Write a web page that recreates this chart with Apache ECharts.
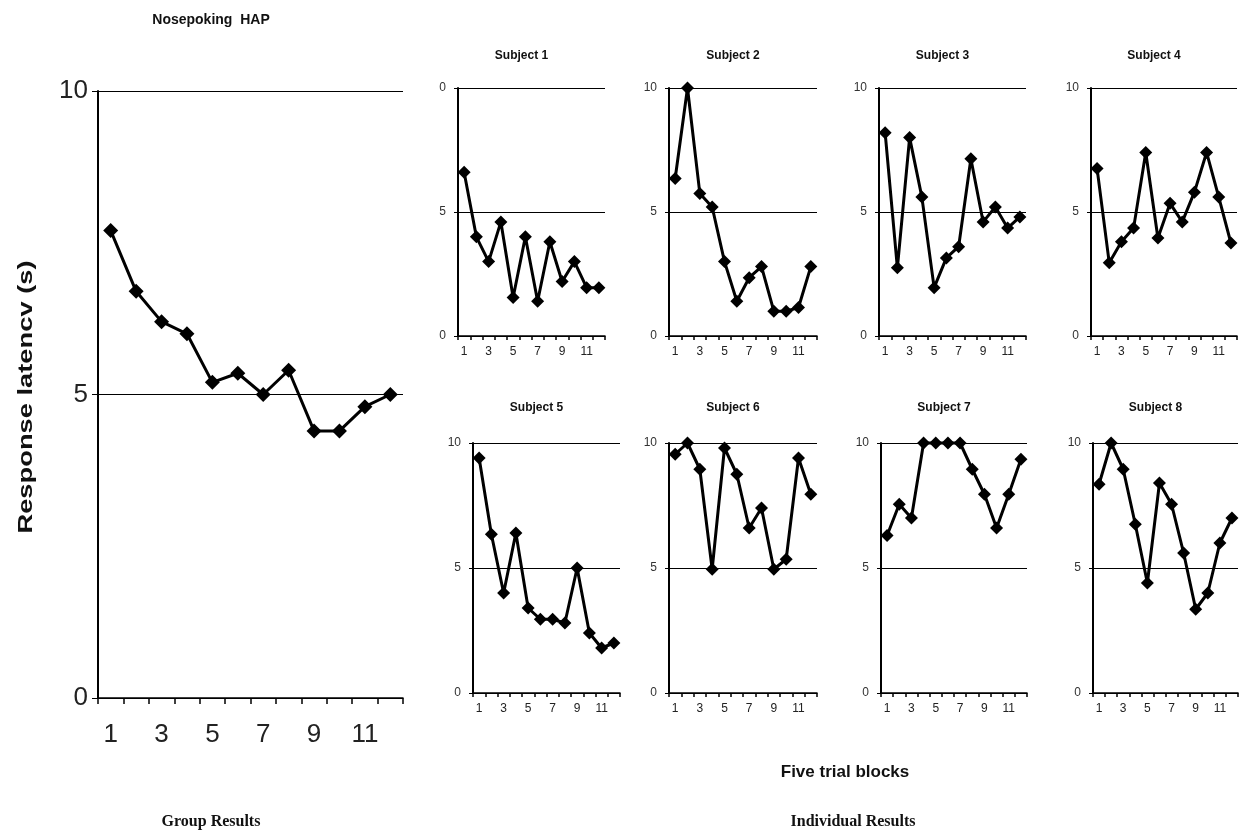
<!DOCTYPE html>
<html>
<head>
<meta charset="utf-8">
<script src="https://cdn.jsdelivr.net/npm/echarts@6/dist/echarts.min.js"></script>
<style>
html,body{margin:0;padding:0;background:#fff;}
#chart{width:1240px;height:834px;}
</style>
</head>
<body>
<div id="chart"></div>
<script>
// ---- data ----
const blocks = ['1','2','3','4','5','6','7','8','9','10','11','12'];
const yTicks = [0, 5, 10];
const groupMean = [7.7, 6.7, 6.2, 6.0, 5.2, 5.35, 5.0, 5.4, 4.4, 4.4, 4.8, 5.0];
const subject1 = [6.6, 4.0, 3.0, 4.6, 1.55, 4.0, 1.4, 3.8, 2.2, 3.0, 1.95, 1.95];
const subject2 = [6.35, 10.0, 5.75, 5.2, 3.0, 1.4, 2.35, 2.8, 1.0, 1.0, 1.15, 2.8];
const subject3 = [8.2, 2.75, 8.0, 5.6, 1.95, 3.15, 3.6, 7.15, 4.6, 5.2, 4.35, 4.8];
const subject4 = [6.75, 2.95, 3.8, 4.35, 7.4, 3.95, 5.35, 4.6, 5.8, 7.4, 5.6, 3.75];
const subject5 = [9.4, 6.35, 4.0, 6.4, 3.4, 2.95, 2.95, 2.8, 5.0, 2.4, 1.8, 2.0];
const subject6 = [9.55, 10.0, 8.95, 4.95, 9.8, 8.75, 6.6, 7.4, 4.95, 5.35, 9.4, 7.95];
const subject7 = [6.3, 7.55, 7.0, 10.0, 10.0, 10.0, 10.0, 8.95, 7.95, 6.6, 7.95, 9.35];
const subject8 = [8.35, 10.0, 8.95, 6.75, 4.4, 8.4, 7.55, 5.6, 3.35, 4.0, 6.0, 7.0];
const subjectNames = ['Subject 1','Subject 2','Subject 3','Subject 4','Subject 5','Subject 6','Subject 7','Subject 8'];
const subjectSeries = [subject1, subject2, subject3, subject4, subject5, subject6, subject7, subject8];
// top tick label as printed in each panel (Subject 1's "10" is clipped to "0" in the original)
const subjectTopLabels = ['0','10','10','10','10','10','10','10'];

const titleText = 'Nosepoking  HAP';
const yName = 'Response latencv (s)';
const xName = 'Five trial blocks';
const groupCaption = 'Group Results';
const indivCaption = 'Individual Results';

// ---- layout ----
const SANS = 'Arial, "Liberation Sans", sans-serif';
const SERIF = '"Times New Roman", "Liberation Serif", serif';
const mainBox = {left: 98, top: 91, width: 305, height: 607};
const panelBoxes = [
  {left: 458, top: 88, width: 147, height: 248, titleY: 56},
  {left: 669, top: 88, width: 148, height: 248, titleY: 56},
  {left: 879, top: 88, width: 147, height: 248, titleY: 56},
  {left: 1091, top: 88, width: 146, height: 248, titleY: 56},
  {left: 473, top: 443, width: 147, height: 250, titleY: 408},
  {left: 669, top: 443, width: 148, height: 250, titleY: 408},
  {left: 881, top: 443, width: 146, height: 250, titleY: 408},
  {left: 1093, top: 443, width: 145, height: 250, titleY: 408}
];

const grids = [], xAxes = [], yAxes = [], series = [], graphics = [];

function addPanel(box, data, opts, idx) {
  grids.push({left: box.left, top: box.top, width: box.width, height: box.height, containLabel: false});
  xAxes.push({
    type: 'category', gridIndex: idx, data: blocks, boundaryGap: true,
    axisLine: {show: true, lineStyle: {color: '#000', width: opts.xLineW}},
    axisTick: {show: true, interval: 0, length: opts.tickLen, lineStyle: {color: '#000', width: opts.tickW}},
    axisLabel: {interval: 1, margin: opts.xLabelMargin, color: '#222', fontSize: opts.xFont, fontFamily: SANS},
    splitLine: {show: false}
  });
  yAxes.push({
    type: 'value', gridIndex: idx, min: 0, max: 10, interval: 5,
    axisLine: {show: true, lineStyle: {color: '#000', width: opts.yLineW}},
    axisTick: {show: true, length: opts.tickLen, lineStyle: {color: '#000', width: 1}},
    axisLabel: {margin: opts.yLabelMargin, color: opts.yColor, fontSize: opts.yFont, fontFamily: SANS,
      formatter: v => (v === 10 && opts.topLabel !== undefined) ? opts.topLabel : String(v)},
    splitLine: {show: true, lineStyle: {color: '#000', width: 1}}
  });
  series.push({
    type: 'line', xAxisIndex: idx, yAxisIndex: idx, data: data,
    symbol: 'diamond', symbolSize: opts.symbolSize, showAllSymbol: true, clip: false,
    lineStyle: {color: '#000', width: opts.lineW},
    itemStyle: {color: '#000'},
    emphasis: {disabled: true}
  });
}

addPanel(mainBox, groupMean, {
  xLineW: 1.5, yLineW: 2, tickLen: 6, tickW: 1.5, xLabelMargin: 24, xFont: 26,
  yLabelMargin: 10, yFont: 26, yColor: '#222', symbolSize: 15, lineW: 3
}, 0);

panelBoxes.forEach((b, i) => {
  addPanel(b, subjectSeries[i], {
    xLineW: 1.5, yLineW: 2, tickLen: 4, tickW: 1.5, xLabelMargin: 10, xFont: 12,
    yLabelMargin: 12, yFont: 12, yColor: '#333', symbolSize: 13, lineW: 3,
    topLabel: subjectTopLabels[i]
  }, i + 1);
  graphics.push({
    type: 'text', x: b.left + b.width / 2 - 10, y: b.titleY,
    style: {text: subjectNames[i], font: 'bold 12px ' + SANS, fill: '#111', align: 'center', verticalAlign: 'middle'}
  });
});

graphics.push(
  {type: 'text', x: 211, y: 20,
   style: {text: titleText, font: 'bold 14px ' + SANS, fill: '#111', align: 'center', verticalAlign: 'middle'}},
  {type: 'text', x: 26, y: 397, rotation: Math.PI / 2, scaleX: 1.3,
   style: {text: yName, font: 'bold 21px ' + SANS, fill: '#111', align: 'center', verticalAlign: 'middle'}},
  {type: 'text', x: 845, y: 772,
   style: {text: xName, font: 'bold 17px ' + SANS, fill: '#111', align: 'center', verticalAlign: 'middle'}},
  {type: 'text', x: 211, y: 822,
   style: {text: groupCaption, font: 'bold 16px ' + SERIF, fill: '#111', align: 'center', verticalAlign: 'middle'}},
  {type: 'text', x: 853, y: 822,
   style: {text: indivCaption, font: 'bold 16px ' + SERIF, fill: '#111', align: 'center', verticalAlign: 'middle'}}
);

const chart = echarts.init(document.getElementById('chart'), null, {renderer: 'canvas'});
chart.setOption({
  animation: false,
  backgroundColor: '#fff',
  grid: grids,
  xAxis: xAxes,
  yAxis: yAxes,
  series: series,
  graphic: graphics
});
</script>
</body>
</html>
